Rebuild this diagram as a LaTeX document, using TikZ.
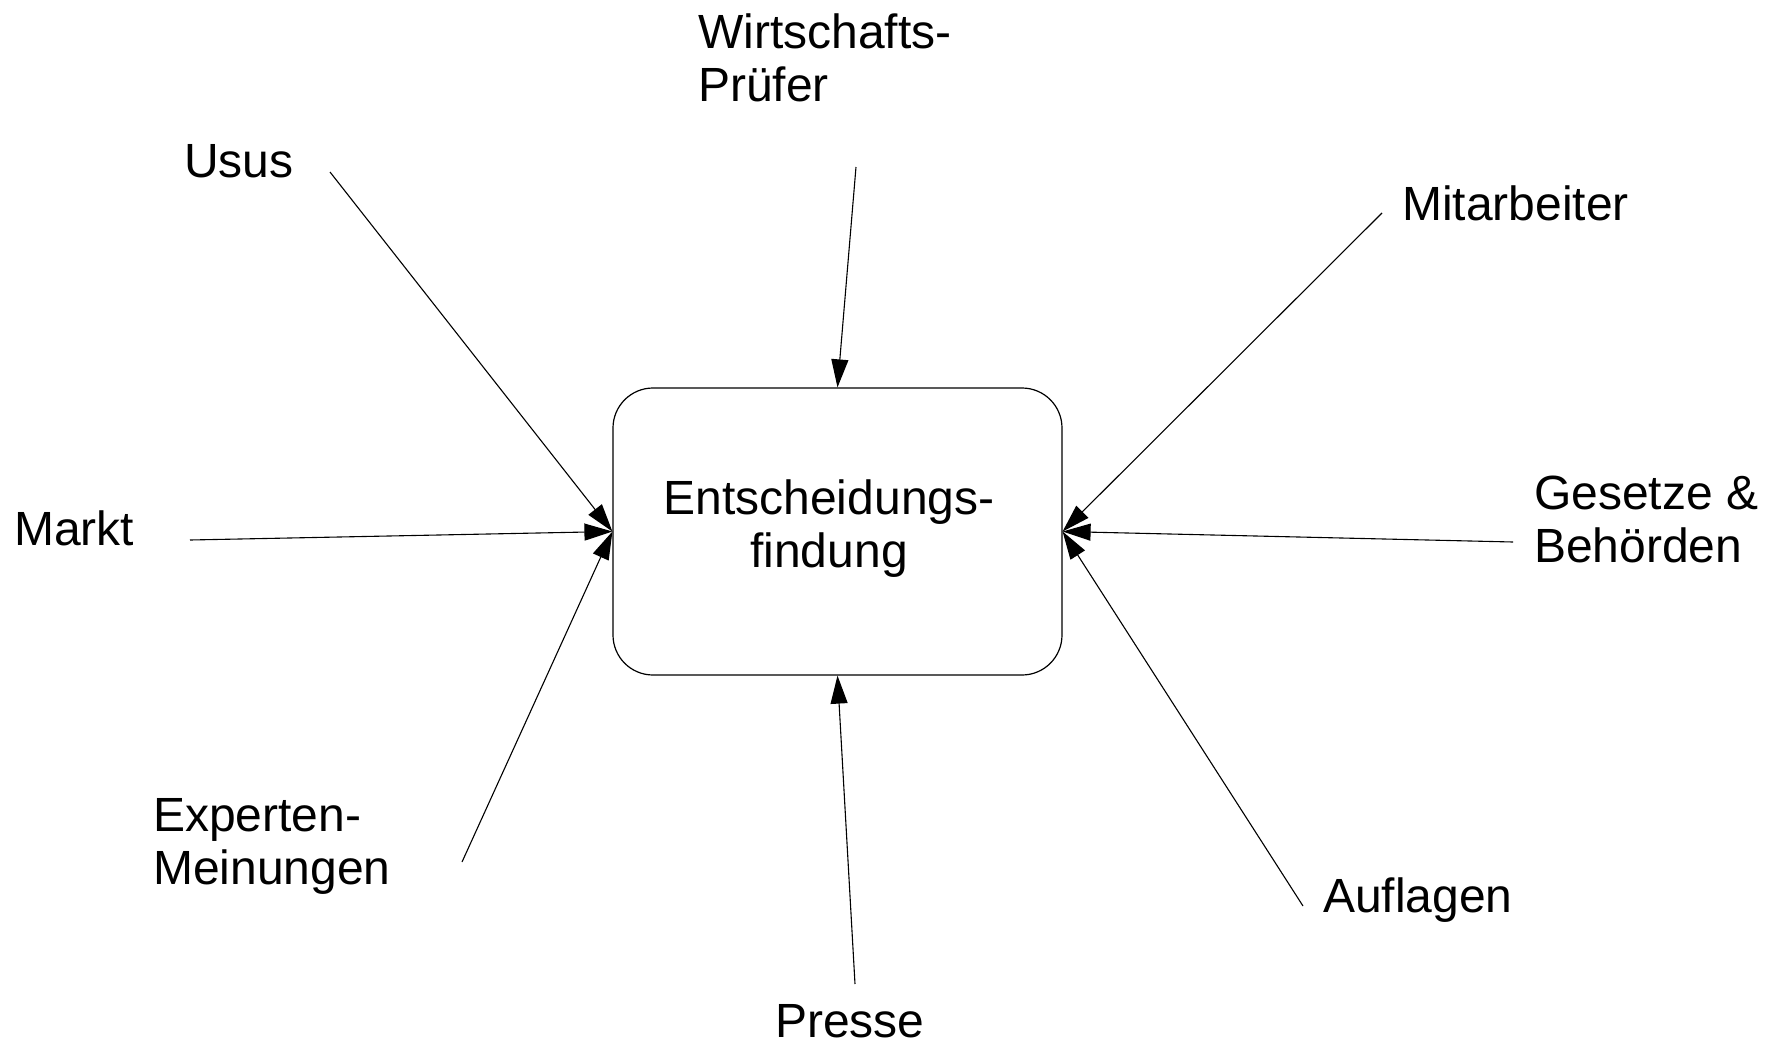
\documentclass[tikz,border=0pt]{standalone}
\usepackage{fontspec}
\setmainfont{Liberation Sans}
\usetikzlibrary{arrows.meta}
\begin{document}
\begin{tikzpicture}[x=1pt,y=-1pt,
  lbl/.style={inner sep=0pt,anchor=base west,font=\fontsize{48}{53}\selectfont},
  clbl/.style={inner sep=0pt,anchor=base,font=\fontsize{48}{53}\selectfont},
  boxstyle/.style={draw,rounded corners=40pt,line width=1.2pt,minimum width=449pt,minimum height=287pt,inner sep=0pt},
  influence/.style={line width=1.1pt,-{Triangle[length=28pt,width=17pt]}}]
\useasboundingbox (0,0) rectangle (1778,1044);
\node[boxstyle] (box) at (837.5,531.5) {};
\node[clbl] (entsch) at (829,514) {\begin{tabular}[t]{@{}c@{}}Entscheidungs-\\findung\end{tabular}};
% labels
\node[lbl] (wirt) at (698,48) {\begin{tabular}[t]{@{}l@{}}Wirtschafts-\\Prüfer\end{tabular}};
\node[lbl] (usus) at (184,177) {Usus};
\node[lbl] (mitar) at (1402,220) {Mitarbeiter};
\node[lbl] (markt) at (14,545) {Markt};
\node[lbl] (gesetz) at (1534,509) {\begin{tabular}[t]{@{}l@{}}Gesetze \&\\Behörden\end{tabular}};
\node[lbl] (exp) at (153,831) {\begin{tabular}[t]{@{}l@{}}Experten-\\Meinungen\end{tabular}};
\node[lbl] (aufl) at (1323,912) {Auflagen};
\node[lbl] (presse) at (775,1037) {Presse};
% line start points
\coordinate (cusus) at (330,172);
\coordinate (cwirt) at (856,167);
\coordinate (cmitar) at (1382,213);
\coordinate (cmarkt) at (190,540);
\coordinate (cgesetz) at (1513,542);
\coordinate (cexp) at (462,862);
\coordinate (caufl) at (1303,906);
\coordinate (cpresse) at (855,984);
% connectors
\draw[influence] (cusus) -- (box.west);
\draw[influence] (cmarkt) -- (box.west);
\draw[influence] (cexp) -- (box.west);
\draw[influence] (cmitar) -- (box.east);
\draw[influence] (cgesetz) -- (box.east);
\draw[influence] (caufl) -- (box.east);
\draw[influence] (cwirt) -- (box.north);
\draw[influence] (cpresse) -- (box.south);
\end{tikzpicture}
\end{document}
